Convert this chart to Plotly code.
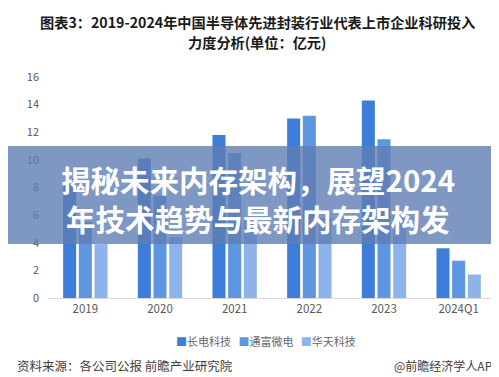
import plotly.graph_objects as go

categories = ["2019", "2020", "2021", "2022", "2023", "2024Q1"]
series_names = ["长电科技", "通富微电", "华天科技"]
jcet = [8.5, 10.1, 11.8, 13.0, 14.3, 3.6]
tfme = [5.5, 7.4, 10.5, 13.2, 11.5, 2.7]
huatian = [3.9, 4.4, 5.6, 5.8, 6.0, 1.7]
y_ticks = [0, 2, 4, 6, 8, 10, 12, 14, 16]

colors = ["#3b7dd8", "#5e96e1", "#8eb2ea"]
FONT = "Noto Sans CJK SC"

fig = go.Figure()
for name, vals, c in zip(series_names, [jcet, tfme, huatian], colors):
    fig.add_trace(go.Bar(x=categories, y=vals, name=name, marker_color=c,
                         marker_line_width=0))

fig.update_layout(
    width=499, height=377,
    margin=dict(l=40, r=11, t=69, b=87),
    paper_bgcolor="white", plot_bgcolor="white",
    barmode="group", bargap=0.37, bargroupgap=0.17,
    font=dict(family=FONT, color="#595959", size=11),
    showlegend=False,
)
fig.update_xaxes(showgrid=False, showline=True, linecolor="#d9d9d9", linewidth=1,
                 ticks="", tickfont=dict(size=11.5, color="#595959"))
fig.update_yaxes(range=[0, 16], tickvals=y_ticks, showgrid=False, zeroline=False,
                 showline=False, ticks="", ticklabelstandoff=8,
                 tickfont=dict(size=11, color="#595959"))

# overlay band
fig.add_shape(type="rect", xref="paper", yref="paper",
              x0=-0.2, x1=1.2, y0=(290 - 236) / 221, y1=(290 - 138) / 221,
              fillcolor="rgba(95,125,180,0.8)", line_width=0, layer="above")

legend_text = "&nbsp;&nbsp;&nbsp;".join(
    f"<span style='color:{c}'>■</span>{n}" for n, c in zip(series_names, colors))

annotations = [
    dict(text="<b>图表3：2019-2024年中国半导体先进封装行业代表上市企业科研投入</b>",
         x=(249 - 40) / 448, y=(290 - 14) / 221, font=dict(size=14.2, color="#1a1a1a"),
         borderpad=0),
    dict(text="<b>力度分析(单位：亿元)</b>",
         x=(249 - 40) / 448, y=(290 - 34) / 221, font=dict(size=14.2, color="#1a1a1a"),
         borderpad=0),
    dict(text="<b>揭秘未来内存架构，展望2024</b>",
         x=(250 - 40) / 448, y=(290 - 171) / 221, font=dict(size=29.5, color="white")),
    dict(text="<b>年技术趋势与最新内存架构发</b>",
         x=(250 - 40) / 448, y=(290 - 210) / 221, font=dict(size=29.5, color="white")),
    dict(text=legend_text, x=(258 - 40) / 448, y=(290 - 333) / 221,
         font=dict(size=11, color="#666666")),
    dict(text="资料来源：各公司公报 前瞻产业研究院", x=(7 - 40) / 448, xanchor="left",
         y=(290 - 357) / 221, font=dict(size=12.5, color="#404040")),
    dict(text="@前瞻经济学人APP", x=(494 - 40) / 448, xanchor="right",
         y=(290 - 357) / 221, font=dict(size=12, color="#404040")),
]
for a in annotations:
    a.setdefault("xanchor", "center")
    fig.add_annotation(xref="paper", yref="paper", showarrow=False, yanchor="middle", **a)

fig.write_html("out.html")
